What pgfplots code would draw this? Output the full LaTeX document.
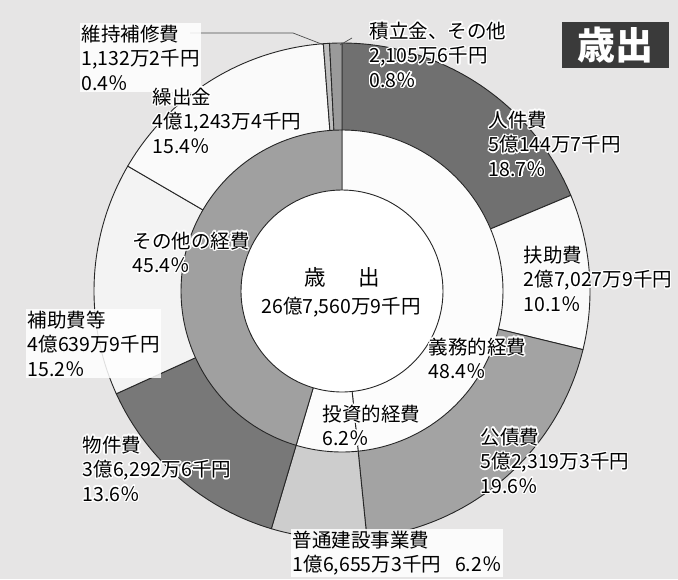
\documentclass[border=0pt]{standalone}
\usepackage{fontspec}
\setmainfont{Noto Sans CJK JP}
\usepackage{pgfplots}
\pgfplotsset{compat=1.18}
\usepackage{contour}
\contourlength{1.4pt}
\definecolor{bg}{HTML}{E6E5E5}
\definecolor{cJinken}{HTML}{707070}
\definecolor{cFujo}{HTML}{FAFAFA}
\definecolor{cKousai}{HTML}{A3A3A3}
\definecolor{cFutsu}{HTML}{CDCDCD}
\definecolor{cButsu}{HTML}{787878}
\definecolor{cHojo}{HTML}{F3F3F3}
\definecolor{cKuri}{HTML}{FAFAFA}
\definecolor{cIji}{HTML}{BEBEBE}
\definecolor{cTsumi}{HTML}{9A9A9A}
\definecolor{cSonota}{HTML}{A0A0A0}
\definecolor{cGimu}{HTML}{FCFCFC}
\definecolor{badge}{HTML}{3A3A3A}
% slice: radius, start %, end %, fill
\newcommand{\slice}[4]{\addplot[fill=#4, draw=black!85, line width=0.9pt, domain=#2:#3, samples=90] ({342+#1*cos(90-3.6*x)},{288+#1*sin(90-3.6*x)}) -- (axis cs:342,288) -- cycle;}
\newcommand{\lab}[4][]{\node[anchor=north west, align=left, inner sep=1.5pt, font=\fontsize{19.5}{24.6}\selectfont, #1] at (axis cs:#2,{579-#3}) {#4};}
\newcommand{\cw}[1]{\contour{white}{#1}}
\tikzset{wbox/.style={fill=white, fill opacity=0.85, text opacity=1}}
\begin{document}
\begin{tikzpicture}
\begin{axis}[x=1pt, y=1pt, xmin=0, xmax=678, ymin=0, ymax=579, hide axis, clip=false, scale only axis]
% background
\addplot[fill=bg, draw=none] coordinates {(0,0) (678,0) (678,579) (0,579)} -- cycle;
% outer ring (share of expenditure, %)
\slice{248}{0}{18.7}{cJinken}
\slice{248}{18.7}{28.8}{cFujo}
\slice{248}{28.8}{48.4}{cKousai}
\slice{248}{48.4}{54.6}{cFutsu}
\slice{248}{54.6}{68.2}{cButsu}
\slice{248}{68.2}{83.4}{cHojo}
\slice{248}{83.4}{98.8}{cKuri}
\slice{248}{98.8}{99.2}{cIji}
\slice{248}{99.2}{100}{cTsumi}
% inner ring
\slice{161}{0}{48.4}{cGimu}
\slice{161}{48.4}{54.6}{cGimu}
\slice{161}{54.6}{100}{cSonota}
% centre
\addplot[fill=white, draw=none, domain=0:100, samples=120] ({342+101*cos(90-3.6*x)},{288+101*sin(90-3.6*x)}) -- cycle;
\addplot[draw=black!85, line width=0.9pt, domain=0:100, samples=120] ({342+101*cos(90-3.6*x)},{288+101*sin(90-3.6*x)});
% leader lines
\draw[black!70, line width=0.7pt] (axis cs:190,546) -- (axis cs:293,546) -- (axis cs:324,534);
\draw[black!70, line width=0.7pt] (axis cs:340,534) -- (axis cs:352,541);
% centre text
\node[font=\fontsize{21.5}{24}\selectfont] at (axis cs:342,302) {歳\hspace{33pt}出};
\node[font=\fontsize{19.5}{24}\selectfont] at (axis cs:341,272) {26億7,560万9千円};
% badge
\fill[badge] (axis cs:562,511) rectangle (axis cs:669,557);
\node[text=white, font=\fontsize{38}{40}\selectfont\bfseries] at (axis cs:615.5,534) {歳出};
% labels
\lab[wbox]{80}{23}{維持補修費\\1,132万2千円\\0.4％}
\lab{368}{20}{\cw{積立金、その他}\\\cw{2,105万6千円}\\\cw{0.8％}}
\lab{151}{86}{\cw{繰出金}\\\cw{4億1,243万4千円}\\\cw{15.4％}}
\lab{487}{109}{\cw{人件費}\\\cw{5億144万7千円}\\\cw{18.7％}}
\lab{522}{244}{\cw{扶助費}\\\cw{2億7,027万9千円}\\\cw{10.1％}}
\lab{131}{230}{\cw{その他の経費}\\\cw{45.4％}}
\lab[wbox]{26}{309}{補助費等\\4億639万9千円\\15.2％}
\lab{427}{336}{\cw{義務的経費}\\\cw{48.4％}}
\lab{321}{403}{\cw{投資的経費}\\\cw{6.2％}}
\lab{479}{426}{\cw{公債費}\\\cw{5億2,319万3千円}\\\cw{19.6％}}
\lab{81}{434}{\cw{物件費}\\\cw{3億6,292万6千円}\\\cw{13.6％}}
\lab[wbox]{291}{529}{普通建設事業費\\1億6,655万3千円\hspace{14pt}6.2％}
\end{axis}
\end{tikzpicture}
\end{document}
